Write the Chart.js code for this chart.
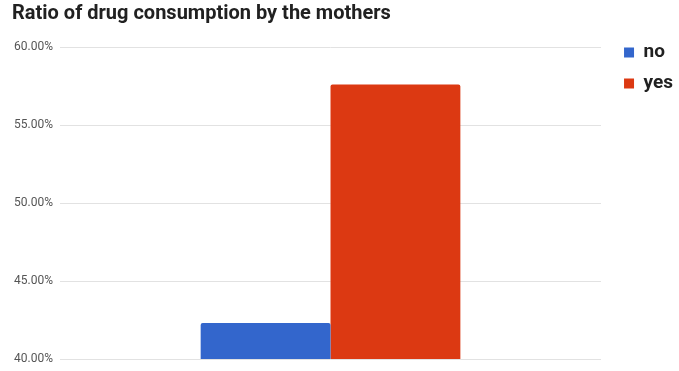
<!DOCTYPE html>
<html>
<head>
<meta charset="utf-8">
<script src="https://cdn.jsdelivr.net/npm/chart.js@4"></script>
<style>
  html, body { margin: 0; padding: 0; background: #fff; }
  #wrap { width: 679px; height: 371px; }
</style>
</head>
<body>
<div id="wrap"><canvas id="graficoDrogas"></canvas></div>
<script>
// share of mothers (%) by answer
const categorias = [''];
const serieNo = [42.3];
const serieYes = [57.6];
const ticksY = [40, 45, 50, 55, 60];

const ctx = document.getElementById('graficoDrogas').getContext('2d');

const graficoDrogas = new Chart(ctx, {
  type: 'bar',
  data: {
    labels: categorias,
    datasets: [
      {
        label: 'no',
        data: serieNo,
        backgroundColor: '#3366cc',
        borderRadius: { topLeft: 2, topRight: 2 },
        borderSkipped: false
      },
      {
        label: 'yes',
        data: serieYes,
        backgroundColor: '#dc3912',
        borderRadius: { topLeft: 2, topRight: 2 },
        borderSkipped: false
      }
    ]
  },
  options: {
    responsive: true,
    maintainAspectRatio: false,
    animation: false,
    categoryPercentage: 0.48,
    barPercentage: 1,
    layout: {
      padding: { left: 12, right: -4, top: 0, bottom: 12 }
    },
    plugins: {
      tooltip: { enabled: false },
      title: {
        display: true,
        text: 'Ratio of drug consumption by the mothers',
        align: 'start',
        color: '#212121',
        font: { family: 'Roboto', size: 20, weight: 'bold' },
        padding: { top: 2, bottom: 21 }
      },
      legend: {
        position: 'right',
        align: 'start',
        title: {
          display: true,
          text: '',
          font: { size: 10 },
          padding: { top: 19, bottom: 0 }
        },
        labels: {
          color: '#212121',
          boxWidth: 10,
          boxHeight: 10,
          padding: 12,
          font: { family: 'Roboto', size: 19, weight: 'bold' }
        }
      }
    },
    scales: {
      y: {
        min: 40,
        max: 60,
        afterBuildTicks: (axis) => {
          axis.ticks = ticksY.map(v => ({ value: v }));
        },
        // fixed axis width so the labels sit flush with the title;
        // no extra overhang below the last label
        afterFit: (scale) => {
          scale.width = 48;
          scale.paddingBottom = 0;
        },
        ticks: {
          color: '#555',
          padding: 7,
          font: { family: 'Roboto', size: 12 },
          callback: (v) => v.toFixed(2) + '%'
        },
        grid: {
          color: '#e2e2e2',
          drawTicks: false
        },
        border: { display: false }
      },
      // empty right-hand axis, only keeps a gap before the legend
      gap: {
        axis: 'y',
        position: 'right',
        ticks: { display: false },
        grid: { display: false },
        border: { display: false },
        afterFit: (scale) => { scale.width = 11; }
      },
      x: {
        display: false
      }
    }
  }
});
</script>
</body>
</html>
